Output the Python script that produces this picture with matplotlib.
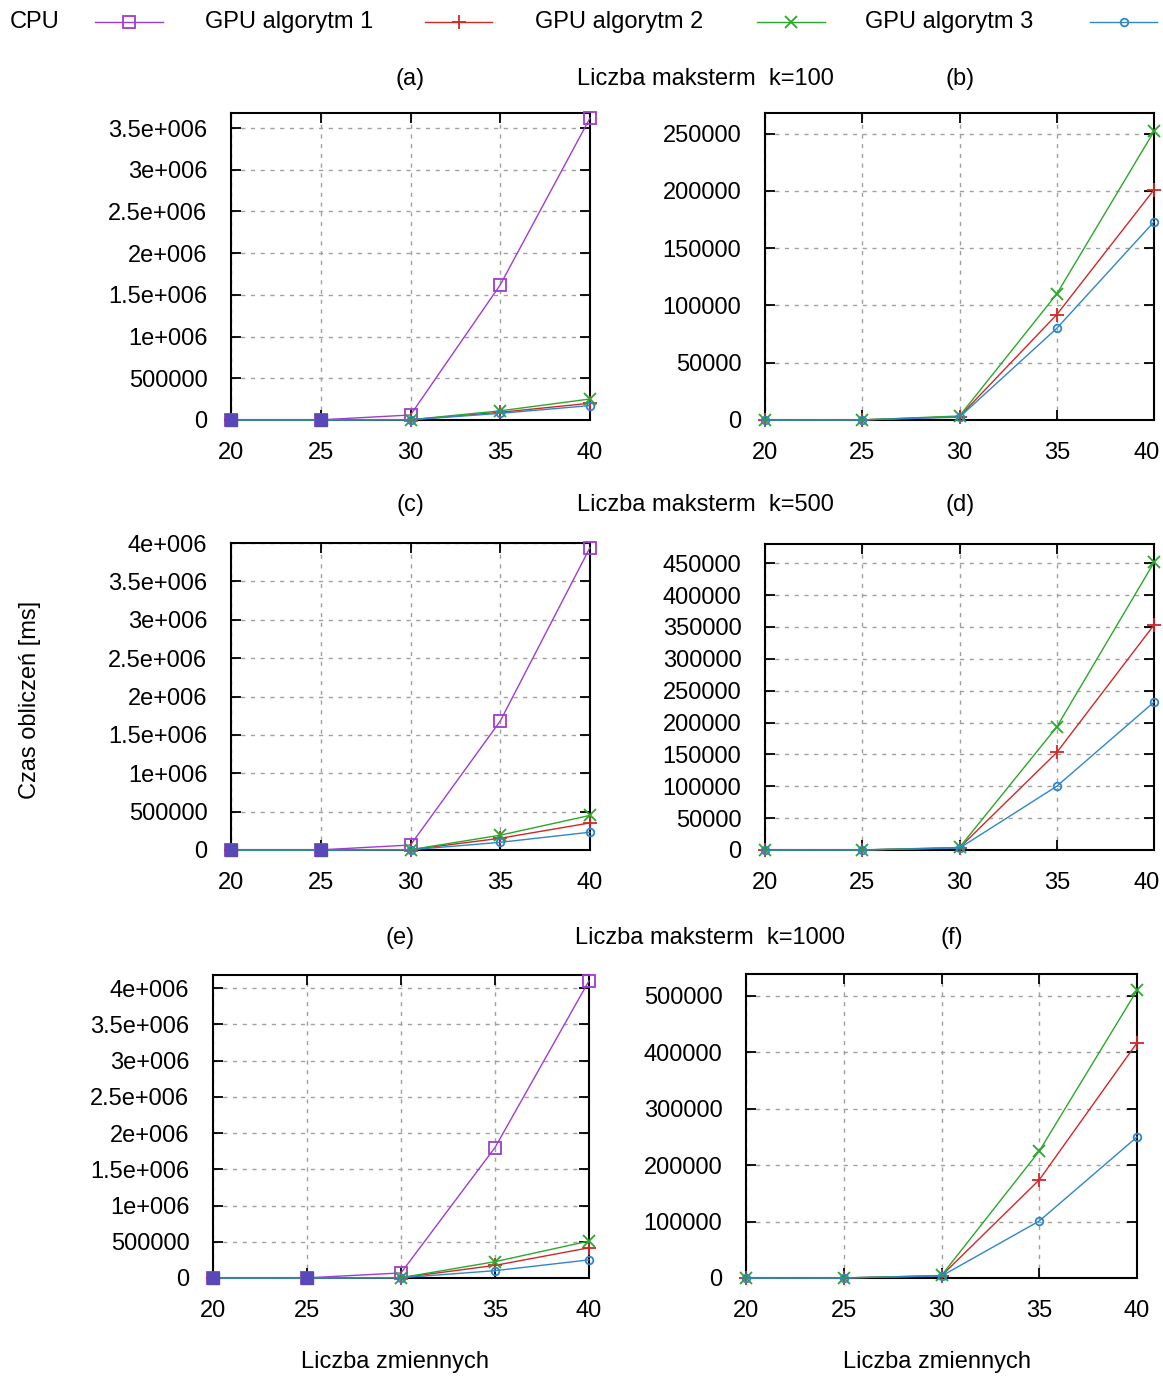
import matplotlib
matplotlib.use('Agg')
import matplotlib.pyplot as plt
from matplotlib.lines import Line2D
from matplotlib.transforms import ScaledTranslation

plt.rcParams['font.family'] = ['Liberation Sans', 'DejaVu Sans']

# data (time in ms)
n_vars = [20, 25, 30, 35, 40]
series_names = ['CPU', 'GPU algorytm 1', 'GPU algorytm 2', 'GPU algorytm 3']

cpu_k100 = [60, 2000, 60000, 1620000, 3620000]
gpu1_k100 = [5, 100, 3000, 92000, 201000]
gpu2_k100 = [5, 100, 3500, 110000, 252000]
gpu3_k100 = [5, 100, 2500, 80000, 173000]

cpu_k500 = [60, 2000, 65000, 1680000, 3940000]
gpu1_k500 = [5, 100, 3500, 153000, 353000]
gpu2_k500 = [5, 100, 4000, 193000, 451000]
gpu3_k500 = [5, 100, 3000, 100000, 232000]

cpu_k1000 = [60, 2000, 70000, 1800000, 4100000]
gpu1_k1000 = [5, 100, 4000, 174000, 417000]
gpu2_k1000 = [5, 100, 4500, 225000, 510000]
gpu3_k1000 = [5, 100, 3500, 101000, 250000]

k_values = [100, 500, 1000]
panel_tags = [('(a)', '(b)'), ('(c)', '(d)'), ('(e)', '(f)')]

# y ranges of the panels
cpu_ylim = [3.68e6, 4.0e6, 4.18e6]
gpu_ylim = [268000, 480000, 539000]
cpu_yticks = [[0, 500000, 1e6, 1.5e6, 2e6, 2.5e6, 3e6, 3.5e6],
              [0, 500000, 1e6, 1.5e6, 2e6, 2.5e6, 3e6, 3.5e6, 4e6],
              [0, 500000, 1e6, 1.5e6, 2e6, 2.5e6, 3e6, 3.5e6, 4e6]]
cpu_ylabels = [['0', '500000', '1e+006', '1.5e+006', '2e+006', '2.5e+006', '3e+006', '3.5e+006'],
               ['0', '500000', '1e+006', '1.5e+006', '2e+006', '2.5e+006', '3e+006', '3.5e+006', '4e+006'],
               ['0', '500000', '1e+006', '1.5e+006', '2e+006', '2.5e+006', '3e+006', '3.5e+006', '4e+006']]
gpu_yticks = [list(range(0, 250001, 50000)),
              list(range(0, 450001, 50000)),
              list(range(0, 500001, 100000))]

colors = ['#a03cd0', '#d02828', '#2aa82a', '#2f86c8']
markers = ['s', '+', 'x', 'o']
msizes = [9, 10, 9, 5.5]

cpu_data = [cpu_k100, cpu_k500, cpu_k1000]
gpu_data = [[gpu1_k100, gpu2_k100, gpu3_k100],
            [gpu1_k500, gpu2_k500, gpu3_k500],
            [gpu1_k1000, gpu2_k1000, gpu3_k1000]]

W, H = 1163, 1377
fig = plt.figure(figsize=(W / 100, H / 100), dpi=100)

# axes boxes in pixels: left, top, right, bottom
left_boxes = [(231, 113, 590, 420), (231, 543, 590, 850), (213, 975, 589, 1278)]
right_boxes = [(765, 113, 1154, 420), (765, 544, 1154, 850), (746, 974, 1137, 1278)]


def px_axes(box):
    l, t, r, b = box
    return fig.add_axes([l / W, 1 - b / H, (r - l) / W, (b - t) / H])


def style(ax, ylim, yticks, ylabels=None):
    ax.set_xlim(20, 40)
    ax.set_ylim(0, ylim)
    ax.set_xticks(n_vars)
    ax.set_yticks(yticks)
    if ylabels is not None:
        ax.set_yticklabels(ylabels)
    ax.tick_params(direction='in', length=7, width=1.3, top=True, right=True, labelsize=17)
    ax.tick_params(axis='x', pad=16)
    ax.tick_params(axis='y', pad=17)
    ax.grid(True, color='#a0a0a0', linestyle=(0, (3, 4)), linewidth=1.0)
    for sp in ax.spines.values():
        sp.set_linewidth(1.5)


def draw(ax, values, idx):
    ax.plot(n_vars, values, color=colors[idx], marker=markers[idx], markersize=msizes[idx],
            markerfacecolor='none', markeredgewidth=1.3, linewidth=1.0, clip_on=False, zorder=3)


for row in range(3):
    axl = px_axes(left_boxes[row])
    draw(axl, cpu_data[row], 0)
    for i in range(3):
        draw(axl, gpu_data[row][i], i + 1)
    # where all four series sit on top of each other the markers merge into a filled square
    low = [v < 10000 for v in cpu_data[row]]
    axl.plot([x for x, m in zip(n_vars, low) if m], [v for v, m in zip(cpu_data[row], low) if m],
             linestyle='none', marker='s', markersize=9, color='#5848b8', clip_on=False, zorder=4)
    style(axl, cpu_ylim[row], cpu_yticks[row], cpu_ylabels[row])

    axr = px_axes(right_boxes[row])
    for i in range(3):
        draw(axr, gpu_data[row][i], i + 1)
    style(axr, gpu_ylim[row], gpu_yticks[row])
    if row < 2:
        # keep the last x label inside the picture
        last = axr.get_xticklabels()[-1]
        last.set_transform(last.get_transform() + ScaledTranslation(-7 / 100, 0, fig.dpi_scale_trans))

# panel titles
title_y = [79, 505, 938]
tag_x = [(410, 960), (410, 960), (400, 952)]
mid_x = [705, 705, 710]
for row in range(3):
    y = 1 - title_y[row] / H
    fig.text(tag_x[row][0] / W, y, panel_tags[row][0], ha='center', va='center', fontsize=17)
    fig.text(tag_x[row][1] / W, y, panel_tags[row][1], ha='center', va='center', fontsize=17)
    fig.text(mid_x[row] / W, y, 'Liczba maksterm  k=%d' % k_values[row],
             ha='center', va='center', fontsize=17)

fig.text(30 / W, 1 - 700 / H, 'Czas obliczeń [ms]', rotation=90, ha='center', va='center', fontsize=17)
fig.text(395 / W, 1 - 1362 / H, 'Liczba zmiennych', ha='center', va='center', fontsize=17)
fig.text(937 / W, 1 - 1362 / H, 'Liczba zmiennych', ha='center', va='center', fontsize=17)

# legend row across the top
leg_text_x = [10, 205, 535, 865]
leg_line = [(95, 163), (425, 492), (757, 825), (1090, 1157)]
ly = 1 - 22 / H
for i, name in enumerate(series_names):
    fig.text(leg_text_x[i] / W, ly, name, ha='left', va='center', fontsize=17)
    x0, x1 = leg_line[i]
    fig.add_artist(Line2D([x0 / W, x1 / W], [ly, ly], transform=fig.transFigure,
                          color=colors[i], linewidth=1.0))
    fig.add_artist(Line2D([(x0 + x1) / 2 / W], [ly], transform=fig.transFigure,
                          color=colors[i], marker=markers[i], markersize=msizes[i],
                          markerfacecolor='none', markeredgewidth=1.3))

fig.savefig('out.png', dpi=100)
